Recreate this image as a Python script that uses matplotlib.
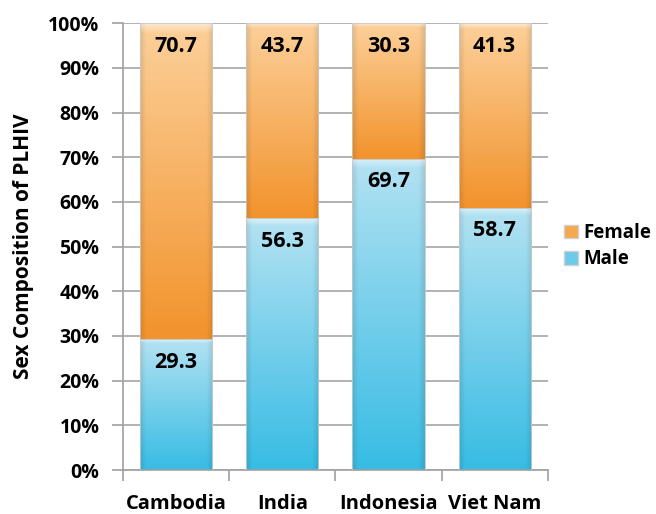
import numpy as np
import matplotlib.pyplot as plt
from matplotlib.colors import to_rgb
from matplotlib.patches import Patch

plt.rcParams['font.family'] = ['Open Sans', 'DejaVu Sans']
plt.rcParams['font.weight'] = 'bold'

countries = ['Cambodia', 'India', 'Indonesia', 'Viet Nam']
male = [29.3, 56.3, 69.7, 58.7]
female = [70.7, 43.7, 30.3, 41.3]
yticks = [0, 10, 20, 30, 40, 50, 60, 70, 80, 90, 100]

orange_light, orange_dark = '#fcd09a', '#f2932c'
blue_light, blue_dark = '#b4e2f2', '#37bce4'


def gradient_fill(ax, bar, light, dark):
    # vertical light-to-dark fade with slightly darker side edges
    x, y = bar.get_x(), bar.get_y()
    w, h = bar.get_width(), bar.get_height()
    t = np.linspace(0, 1, 200)[:, None]
    s = np.linspace(0, 1, 60)[None, :]
    c0, c1 = np.array(to_rgb(light)), np.array(to_rgb(dark))
    img = c0 * (1 - t[..., None]) + c1 * t[..., None]
    img = img * np.ones((1, 60, 1))
    edge = np.clip(1 - np.minimum(s, 1 - s) / 0.08, 0, 1)
    img = img * (1 - 0.10 * edge[..., None])
    # soft highlight at the top of each segment
    top = np.clip(1 - t / 0.03, 0, 1)
    img = img * (1 - 0.5 * top[..., None]) + 0.5 * top[..., None]
    im = ax.imshow(np.clip(img, 0, 1), extent=(x, x + w, y, y + h),
                   origin='upper', aspect='auto', zorder=2)
    im.set_clip_path(bar)


fig = plt.figure(figsize=(6.56, 5.14), dpi=100)
ax = fig.add_axes([0.1875, 0.0856, 0.6475, 0.8694])

pos = np.arange(len(countries))
male_bars = ax.bar(pos, male, width=0.68, color='none',
                   edgecolor='#c8c8c8', linewidth=0.6, zorder=3)
female_bars = ax.bar(pos, female, width=0.68, bottom=male, color='none',
                     edgecolor='#c8c8c8', linewidth=0.6, zorder=3)

for b in male_bars:
    gradient_fill(ax, b, blue_light, blue_dark)
for b in female_bars:
    gradient_fill(ax, b, orange_light, orange_dark)

# value labels just under the top of each segment
for i in range(len(countries)):
    ax.text(pos[i], male[i] - 5.2, f'{male[i]:.1f}', ha='center', va='center',
            fontsize=15.5, fontweight='bold', color='black', zorder=4)
    ax.text(pos[i], 100 - 5.2, f'{female[i]:.1f}', ha='center', va='center',
            fontsize=15.5, fontweight='bold', color='black', zorder=4)

ax.set_xlim(-0.5, 3.5)
ax.set_ylim(0, 100)
ax.set_yticks(yticks)
ax.set_yticklabels([f'{v}%' for v in yticks], fontsize=14, fontweight='bold')
ax.set_xticks(pos)
ax.set_xticklabels(countries, fontsize=14.5, fontweight='bold')
ax.set_xticks(np.arange(-0.5, 4, 1), minor=True)
ax.tick_params(axis='x', which='major', length=0, pad=17)
ax.tick_params(axis='x', which='minor', length=8, color='#a0a0a0', width=1.2)
ax.tick_params(axis='y', length=8, color='#a0a0a0', width=1.2, pad=9)

ax.set_ylabel('Sex Composition of PLHIV', fontsize=15, fontweight='bold', labelpad=10)

ax.grid(axis='y', color='#a6a6a6', linewidth=1.2)
ax.set_axisbelow(True)
for side in ['top', 'right']:
    ax.spines[side].set_visible(False)
for side in ['left', 'bottom']:
    ax.spines[side].set_color('#a0a0a0')
    ax.spines[side].set_linewidth(1.2)

handles = [Patch(facecolor='#f6a84f', edgecolor='#d0d0d0', label='Female'),
           Patch(facecolor='#6ccbea', edgecolor='#d0d0d0', label='Male')]
fig.legend(handles=handles, loc='center left', bbox_to_anchor=(0.84, 0.521),
           frameon=False, handlelength=0.75, handleheight=0.75, borderpad=0.2,
           handletextpad=0.3, labelspacing=0.35, prop={'weight': 'bold', 'size': 13.5})

fig.savefig('out.png', dpi=100)
